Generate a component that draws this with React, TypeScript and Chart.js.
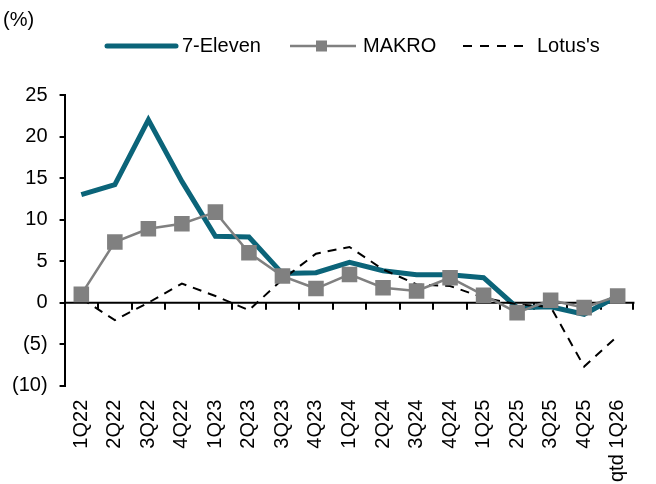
import { useEffect, useRef } from "react";
import { Chart, registerables } from "chart.js";

Chart.register(...registerables);

const categories = [
  "1Q22", "2Q22", "3Q22", "4Q22", "1Q23", "2Q23", "3Q23", "4Q23",
  "1Q24", "2Q24", "3Q24", "4Q24", "1Q25", "2Q25", "3Q25", "4Q25", "qtd 1Q26",
];
const sevenEleven = [13.0, 14.2, 22.0, 14.6, 8.0, 7.9, 3.5, 3.6, 4.85, 3.85, 3.35, 3.35, 3.0, -0.6, -0.5, -1.4, 0.8];
const makro = [1.0, 7.3, 8.9, 9.5, 10.9, 6.0, 3.2, 1.7, 3.4, 1.8, 1.4, 3.0, 0.9, -1.2, 0.3, -0.6, 0.8];
const lotus = [0.5, -2.1, 0.0, 2.3, 0.8, -0.9, 2.8, 5.9, 6.7, 4.0, 2.2, 2.0, 0.6, -0.2, -0.5, -7.7, -4.0];
const seriesNames = ["7-Eleven", "MAKRO", "Lotus's"];
const yMin = -10;
const yMax = 25;
const yStep = 5;
const unitLabel = "(%)";

const TEAL = "#0b6479";
const GRAY = "#808080";
const FONT = "'Liberation Sans', Arial, sans-serif";

const zeroAxisPlugin = {
  id: "zeroAxis",
  beforeDatasetsDraw(chart: any) {
    const { ctx, chartArea, scales } = chart;
    const y0 = scales.y.getPixelForValue(0);
    ctx.save();
    ctx.strokeStyle = "#000";
    ctx.lineWidth = 2;
    ctx.beginPath();
    ctx.moveTo(chartArea.left, y0);
    ctx.lineTo(chartArea.right, y0);
    ctx.stroke();
    const n = categories.length;
    const w = scales.x.width / n;
    ctx.beginPath();
    for (let i = 1; i <= n; i++) {
      const x = Math.round(scales.x.left + i * w) - (i === n ? 1 : 0);
      ctx.moveTo(x, y0);
      ctx.lineTo(x, y0 + 7);
    }
    ctx.stroke();
    ctx.restore();
  },
};

const legendPlugin = {
  id: "customLegend",
  afterDraw(chart: any) {
    const { ctx } = chart;
    ctx.save();
    ctx.font = `20px ${FONT}`;
    ctx.fillStyle = "#000";
    ctx.textBaseline = "middle";
    ctx.textAlign = "left";
    // unit label
    ctx.fillText(unitLabel, 3, 20);
    const ly = 46;
    // 7-Eleven
    ctx.strokeStyle = TEAL;
    ctx.lineWidth = 5;
    ctx.lineCap = "round";
    ctx.beginPath();
    ctx.moveTo(107, ly);
    ctx.lineTo(176, ly);
    ctx.stroke();
    ctx.fillText(seriesNames[0], 182, ly);
    // MAKRO
    ctx.strokeStyle = GRAY;
    ctx.lineWidth = 2.5;
    ctx.lineCap = "butt";
    ctx.beginPath();
    ctx.moveTo(290, ly);
    ctx.lineTo(356, ly);
    ctx.stroke();
    ctx.fillStyle = GRAY;
    ctx.fillRect(316, ly - 5.5, 11, 11);
    ctx.fillStyle = "#000";
    ctx.fillText(seriesNames[1], 363, ly);
    // Lotus's
    ctx.strokeStyle = "#000";
    ctx.lineWidth = 2;
    ctx.setLineDash([9, 8]);
    ctx.beginPath();
    ctx.moveTo(463, ly);
    ctx.lineTo(525, ly);
    ctx.stroke();
    ctx.setLineDash([]);
    ctx.fillText(seriesNames[2], 537, ly);
    ctx.restore();
  },
};

export default function App() {
  const ref = useRef<HTMLCanvasElement>(null);
  useEffect(() => {
    document.body.style.margin = "0";
    const canvas = ref.current!;
    Chart.defaults.font.family = FONT;
    Chart.defaults.font.size = 20;
    Chart.defaults.color = "#000";
    const chart = new Chart(canvas, {
      type: "line",
      data: {
        labels: categories,
        datasets: [
          {
            label: seriesNames[0],
            data: sevenEleven,
            borderColor: TEAL,
            backgroundColor: TEAL,
            borderWidth: 5,
            pointRadius: 0,
            tension: 0,
            order: 2,
          },
          {
            label: seriesNames[1],
            data: makro,
            borderColor: GRAY,
            backgroundColor: GRAY,
            borderWidth: 2.5,
            pointStyle: "rect",
            pointRadius: 11,
            pointBorderWidth: 0,
            pointBackgroundColor: GRAY,
            tension: 0,
            order: 0,
          },
          {
            label: seriesNames[2],
            data: lotus,
            borderColor: "#000",
            backgroundColor: "#000",
            borderWidth: 2,
            borderDash: [9, 7],
            pointRadius: 0,
            tension: 0,
            order: 1,
          },
        ],
      },
      options: {
        animation: false,
        responsive: false,
        maintainAspectRatio: false,
        layout: { padding: { top: 95, left: 0, right: 1, bottom: -12 } },
        plugins: {
          legend: { display: false },
          tooltip: { enabled: false },
          title: { display: false },
        },
        scales: {
          x: {
            type: "category",
            offset: true,
            grid: { display: false, drawTicks: false },
            border: { display: false },
            ticks: {
              autoSkip: false,
              minRotation: 90,
              maxRotation: 90,
              padding: 14,
              color: "#000",
              font: { size: 20 },
            },
          },
          y: {
            min: yMin,
            max: yMax,
            ticks: {
              stepSize: yStep,
              padding: 12,
              color: "#000",
              font: { size: 20 },
              callback: (v: any) => (v < 0 ? `(${-v})` : `${v}`),
            },
            grid: {
              drawOnChartArea: false,
              drawTicks: true,
              tickLength: 5,
              color: "#000",
              lineWidth: 2,
            },
            border: { display: true, color: "#000", width: 2 },
          },
        },
      },
      plugins: [zeroAxisPlugin, legendPlugin],
    });
    return () => chart.destroy();
  }, []);
  return (
    <div style={{ position: "fixed", left: 0, top: 0, width: 656, height: 484 }}>
      <canvas ref={ref} width={656} height={484} />
    </div>
  );
}
